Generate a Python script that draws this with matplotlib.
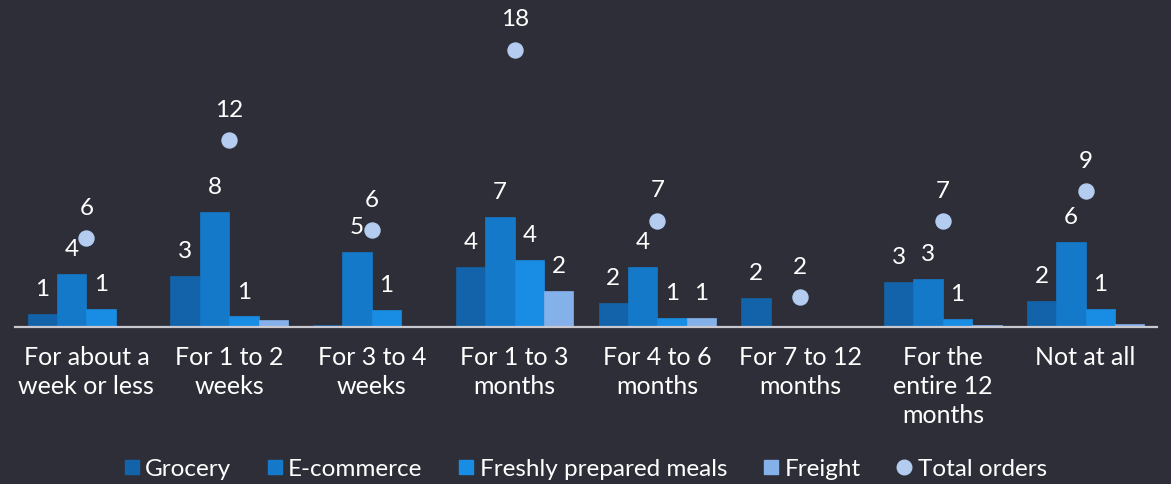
import numpy as np
import matplotlib.pyplot as plt
from matplotlib.lines import Line2D

# Data (approximate)
categories = ["For about a\nweek or less", "For 1 to 2\nweeks", "For 3 to 4\nweeks",
              "For 1 to 3\nmonths", "For 4 to 6\nmonths", "For 7 to 12\nmonths",
              "For the\nentire 12\nmonths", "Not at all"]
grocery = [0.9, 3.4, 0.11, 4.0, 1.63, 1.96, 2.98, 1.76]
ecommerce = [3.55, 7.7, 5.03, 7.33, 4.0, 0, 3.2, 5.67]
fresh_meals = [1.18, 0.71, 1.16, 4.45, 0.6, 0, 0.52, 1.2]
freight = [0.07, 0.45, 0, 2.38, 0.6, 0, 0.13, 0.23]
total_orders = [5.93, 12.45, 6.45, 18.49, 7.1, 1.97, 7.07, 9.04]

series = [("Grocery", grocery, "#1363AA"),
          ("E-commerce", ecommerce, "#1579CA"),
          ("Freshly prepared meals", fresh_meals, "#198CE4"),
          ("Freight", freight, "#85B1EB")]
dot_color = "#B4CCF0"
bg = "#2E2E38"

plt.rcParams['font.family'] = ['Lato', 'DejaVu Sans']
fs = 17.5

fig = plt.figure(figsize=(11.71, 4.84), dpi=100, facecolor=bg)
ax = fig.add_axes([15 / 1171, 157 / 484, 1142 / 1171, 327 / 484])
ax.set_facecolor(bg)

x = np.arange(len(categories))
w = 0.206
for i, (name, vals, col) in enumerate(series):
    pos = x + (i - 1.5) * w
    ax.bar(pos, vals, width=w, color=col, edgecolor=col, linewidth=0.5)
    for px, v in zip(pos, vals):
        if int(round(v)) >= 1:
            ax.annotate(f"{int(round(v))}", (px, v), xytext=(0, 17.5), textcoords="offset points",
                        ha="center", va="center", color="white", fontsize=fs)

ax.plot(x, total_orders, "o", color=dot_color, markersize=10.8, linestyle="none")
for px, v in zip(x, total_orders):
    ax.annotate(f"{int(round(v))}", (px, v), xytext=(0, 21.5), textcoords="offset points",
                ha="center", va="center", color="white", fontsize=fs)

ax.set_xlim(-0.5, len(categories) - 0.5)
ax.set_ylim(0, 327 / 15)
ax.set_xticks(x)
ax.set_xticklabels(categories, color="white", fontsize=18, linespacing=1.3)
ax.tick_params(axis="x", length=0, pad=14)
ax.set_yticks([])
for s in ["top", "right", "left"]:
    ax.spines[s].set_visible(False)
ax.spines["bottom"].set_color("#C8C8CE")
ax.spines["bottom"].set_linewidth(1.6)

handles = [Line2D([], [], marker="s", linestyle="none", color=c, markersize=9.5, label=n)
           for n, _, c in series]
handles.append(Line2D([], [], marker="o", linestyle="none", color=dot_color,
                      markersize=10.5, label="Total orders"))
fig.legend(handles=handles, loc="center", bbox_to_anchor=(0.5, 15 / 484), ncol=5,
           frameon=False, fontsize=fs, labelcolor="white", handletextpad=0.25,
           columnspacing=1.5, handlelength=0.6)

fig.savefig("out.png", dpi=100, facecolor=bg)
